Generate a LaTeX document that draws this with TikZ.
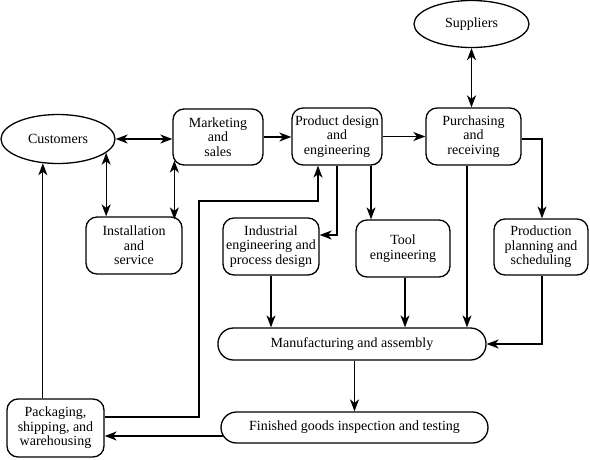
\documentclass[tikz,border=0pt]{standalone}
\usepackage{fontspec}
\setmainfont{Liberation Serif}
\usetikzlibrary{shapes.geometric,arrows.meta,calc}
\begin{document}
\begin{tikzpicture}[x=1pt,y=-1pt,
  font=\fontsize{14}{14.5}\selectfont,
  box/.style={draw,line width=1.3pt,rounded corners=11pt,align=center,inner sep=1pt},
  stad/.style={draw,line width=1.3pt,rounded corners=15.5pt,align=center,inner sep=1pt},
  oval/.style={draw,line width=1.3pt,ellipse,inner sep=0pt},
  tip/.style={Stealth[length=12pt,width=9pt,inset=3.5pt]},
  conn/.style={line width=1.3pt,-{Stealth[length=12pt,width=9pt,inset=3.5pt]}},
  bconn/.style={line width=1.3pt,{Stealth[length=12pt,width=9pt,inset=3.5pt]}-{Stealth[length=12pt,width=9pt,inset=3.5pt]}}]
\useasboundingbox (0,0) rectangle (590,459);

% nodes
\node[oval,minimum width=114,minimum height=49] (cust) at (58,139) {Customers};
\node[oval,minimum width=115,minimum height=47] (supp) at (471.5,24) {Suppliers};
\node[box,minimum width=90,minimum height=56] (mkt) at (218,137) {Marketing\\and\\sales};
\node[box,minimum width=90,minimum height=57] (prod) at (337,136.5) {Product design\\and\\engineering};
\node[box,minimum width=95,minimum height=57] (purch) at (473.5,136.5) {Purchasing\\and\\receiving};
\node[box,minimum width=96,minimum height=57] (inst) at (134,245.5) {Installation\\and\\service};
\node[box,minimum width=96,minimum height=57] (ind) at (271,246.5) {Industrial\\engineering and\\process design};
\node[box,minimum width=94,minimum height=57] (tool) at (403,248.5) {Tool\\engineering};
\node[box,minimum width=94,minimum height=56] (plan) at (541,247) {Production\\planning and\\scheduling};
\node[stad,minimum width=268,minimum height=32] (manu) at (352,344) {Manufacturing and assembly};
\node[stad,minimum width=267,minimum height=31] (fin) at (354.5,427.5) {Finished goods inspection and testing};
\node[box,minimum width=97,minimum height=58] (pack) at (55.5,428) {Packaging,\\shipping, and\\warehousing};

% helper coordinates
\coordinate (ms) at ($(mkt.south west)+(2,-5)$);
\coordinate (in) at ($(inst.north east)+(-7,3)$);
\coordinate (pt) at ($(prod.south)+(34,0)$);
\coordinate (pe) at ($(prod.south)+(-19,0)$);
\coordinate (c1) at (199,201);
\coordinate (ts) at ($(tool.south)+(2,0)$);
\coordinate (ps) at ($(purch.south)+(-6.5,0)$);

% connectors
\draw[bconn] (cust.east) -- (cust.east -| mkt.west);
\draw[bconn] (cust.-16.6) -- (cust.-16.6 |- inst.north);
\draw[bconn] (ms) -- (ms |- in);
\draw[conn] (mkt.east) -- (mkt.east -| prod.west);
\draw[conn] (prod.east) -- (prod.east -| purch.west);
\draw[bconn] (supp.south) -- (supp.south |- purch.north);
\draw[conn] ($(purch.east)+(0,2.5)$) -| ($(plan.north)+(1,0)$);
\draw[conn] (pt) -- (pt |- tool.north);
\draw[conn] (prod.south) |- ($(ind.east)+(0,-11.5)$);
\draw[conn] ($(pack.east)+(0,-11)$) -| (c1) -| (pe);
\draw[conn] (cust.-122.4 |- pack.north) -- (cust.-122.4);
\draw[conn] (ind.south) -- (ind.south |- manu.north);
\draw[conn] (ts) -- (ts |- manu.north);
\draw[conn] (ps) -- (ps |- manu.north);
\draw[conn] ($(plan.south)+(1,0)$) |- (manu.east);
\draw[conn] (fin.north |- manu.south) -- (fin.north);
\draw[conn] ($(fin.west)+(2.5,8.5)$) -- ($(pack.east)+(0,8)$);
\end{tikzpicture}
\end{document}
